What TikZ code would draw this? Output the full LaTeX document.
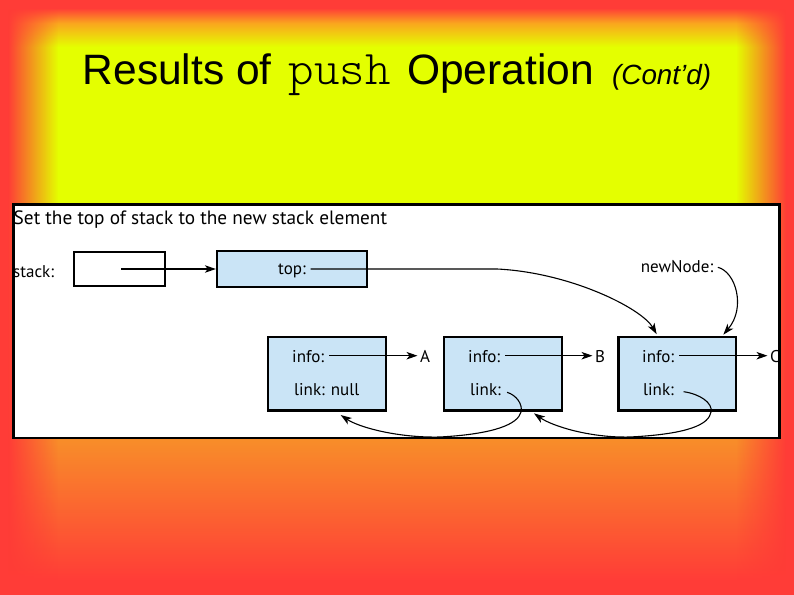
\documentclass[tikz,border=0pt]{standalone}
\usepackage{fontspec}
\setmainfont{Liberation Sans}
\newfontfamily\figf{PT Sans}
\newfontfamily\monolt{Latin Modern Mono Light}
\usetikzlibrary{arrows.meta,fadings}
\definecolor{bgred}{RGB}{255,60,55}
\definecolor{bgorange}{RGB}{248,138,42}
\definecolor{bgyellow}{RGB}{228,255,0}
\definecolor{bgamber}{RGB}{250,165,30}
\definecolor{cellblue}{RGB}{202,228,246}
\pgfdeclareverticalshading{bgv}{794bp}{color(0bp)=(bgred); color(15bp)=(bgred); color(150bp)=(bgorange); color(380bp)=(bgyellow); color(548bp)=(bgyellow); color(572bp)=(bgamber); color(587bp)=(bgred); color(595bp)=(bgred)}
\begin{document}
\begin{tikzpicture}[x=1bp,y=-1bp,
  cell/.style={draw=black, line width=2.3bp, fill=cellblue, inner sep=0pt},
  lbl/.style={font=\figf\fontsize{17bp}{20bp}\selectfont, inner xsep=2.5bp, inner ysep=1bp, anchor=base west},
  headlbl/.style={font=\figf\fontsize{19.3bp}{22bp}\selectfont, inner xsep=2.5bp, inner ysep=1bp, anchor=base west},
  ttl/.style={inner sep=0pt, anchor=base west, font=\fontsize{42.5bp}{50bp}\selectfont},
  arr/.style={line width=1.1bp, -{Stealth[length=11bp,width=7.5bp,inset=3bp]}}]
\useasboundingbox (0,0) rectangle (794,595);
% background
\node[inner sep=0pt, outer sep=0pt, anchor=north west] (bg) at (0,0) {\pgfuseshading{bgv}};
\fill[bgred] (0,0) rectangle (8,595);
\fill[bgred, path fading=east] (8,0) rectangle (58,595);
\fill[bgred] (786,0) rectangle (794,595);
\fill[bgred, path fading=west] (736,0) rectangle (786,595);
% title
\node[ttl] (title1) at (82.5,84.8) {Results of};
\node[ttl, font=\monolt\fontsize{48.5bp}{50bp}\selectfont] (title2) at (288.5,84.8) {push};
\node[ttl] (title3) at (407,84.8) {Operation};
\node[ttl, font=\fontsize{27.8bp}{30bp}\selectfont\itshape] (title4) at (612,84.8) {(Cont’d)};
% panel
\node[fill=white, inner sep=0pt, outer sep=0pt, minimum width=766bp, minimum height=233.4bp] (panel) at (396.7,321.3) {};
\begin{scope}
\clip (panel.north west) rectangle (panel.south east);
\node[headlbl] (head) at (11,225) {Set the top of stack to the new stack element};
\node[lbl] (stackT) at (10.5,277) {stack:};
\node[cell, fill=white, minimum width=91bp, minimum height=34bp] (stackbox) at (119.4,269) {};
\node[cell, minimum width=150bp, minimum height=35.5bp] (topbox) at (292,269) {};
\node[lbl] (topT) at (275.5,274) {top:};
\node[lbl] (newT) at (638.2,272) {newNode:};
\node[cell, minimum width=118.4bp, minimum height=73.8bp] (n1) at (327,373.7) {};
\node[cell, minimum width=118.4bp, minimum height=73.8bp] (n2) at (503,373.7) {};
\node[cell, minimum width=117.8bp, minimum height=73.8bp] (n3) at (677.3,373.7) {};
\node[lbl] (i1) at (289.5,362.5) {info:};
\node[lbl] (l1) at (291.5,395.5) {link: null};
\node[lbl] (A) at (417.5,362.5) {A};
\node[lbl] (i2) at (465.5,362.5) {info:};
\node[lbl] (l2) at (467.5,395.5) {link:};
\node[lbl] (B) at (592.5,362.5) {B};
\node[lbl] (i3) at (639.5,362.5) {info:};
\node[lbl] (l3) at (640.5,395.5) {link:};
\node[lbl] (C) at (767.5,362.5) {C};
% connectors
\draw[arr] ([xshift=1.6bp]stackbox.center) -- (topbox.west);
\coordinate (tstart) at ([xshift=2bp,yshift=5bp]topT.base east);
\coordinate (bend) at (497,0);
\coordinate (tip3a) at ([xshift=39.4bp,yshift=1.5bp]n3.north west);
\draw[arr] (tstart) -- (tstart -| bend) .. controls +(73,3.5) and ([xshift=-15bp,yshift=26bp]tip3a) .. (tip3a);
\coordinate (tip3b) at ([xshift=-14bp,yshift=1bp]n3.north east);
\draw[arr] ([xshift=2bp,yshift=4.7bp]newT.base east) .. controls +(18,4.7) and ([xshift=22.7bp,yshift=27bp]tip3b) .. (tip3b);
\draw[arr] ([xshift=2.5bp,yshift=6.8bp]i1.base east) -- ([yshift=6.8bp]A.base west);
\draw[arr] ([xshift=2.5bp,yshift=6.8bp]i2.base east) -- ([yshift=6.8bp]B.base west);
\draw[arr] ([xshift=2.5bp,yshift=6.8bp]i3.base east) -- ([yshift=6.8bp]C.base west);
\coordinate (s2) at ([xshift=3.5bp,yshift=3.2bp]l2.base east);
\coordinate (t1) at ([xshift=13.7bp,yshift=-3.3bp]n1.south);
\draw[arr] (s2) .. controls (516,395) and (523,404) .. (521,412) .. controls (518,424) and (495,434) .. (440,437) .. controls (400,438) and (360,428) .. (t1);
\coordinate (s3) at ([xshift=7bp,yshift=3.8bp]l3.base east);
\coordinate (t2) at ([xshift=31bp,yshift=-1.6bp]n2.south);
\draw[arr] (s3) .. controls (700,394) and (713,403) .. (711,412) .. controls (709,424) and (690,434) .. (630,437) .. controls (590,438) and (552,426) .. (t2);
\end{scope}
\draw[line width=2.8bp] (panel.north west) rectangle (panel.south east);
\end{tikzpicture}
\end{document}
